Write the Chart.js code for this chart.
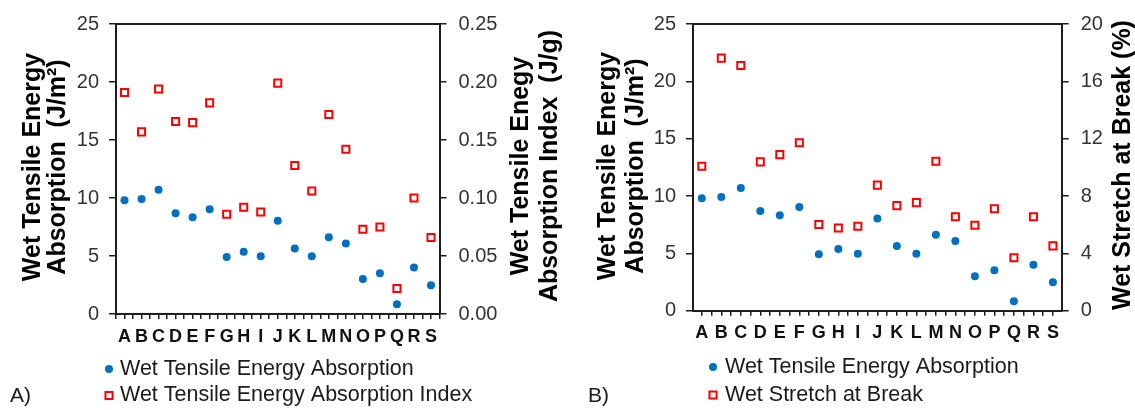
<!DOCTYPE html>
<html>
<head>
<meta charset="utf-8">
<script src="https://cdn.jsdelivr.net/npm/chart.js@4.4.0/dist/chart.umd.min.js"></script>
<style>
  html, body { margin: 0; padding: 0; background: #fff; }
  #wrap { position: relative; width: 1135px; height: 410px; overflow: hidden; }
  canvas { position: absolute; top: 0; }
  #panelA { left: 0; }
  #panelB { left: 570px; }
</style>
</head>
<body>
<div id="wrap">
  <canvas id="panelA" width="570" height="410"></canvas>
  <canvas id="panelB" width="565" height="410"></canvas>
</div>
<script>
// Handsheet samples
const samples = ['A','B','C','D','E','F','G','H','I','J','K','L','M','N','O','P','Q','R','S'];

// Wet tensile energy absorption (J/m²)
const wetTEA = [9.80, 9.91, 10.71, 8.69, 8.33, 9.04, 4.92, 5.37, 4.97, 8.04, 5.65, 4.97, 6.62, 6.08, 3.01, 3.52, 0.83, 4.01, 2.47];
// Wet tensile energy absorption index (J/g)
const wetTEAIndex = [0.191, 0.157, 0.194, 0.166, 0.165, 0.182, 0.086, 0.092, 0.088, 0.199, 0.128, 0.106, 0.172, 0.142, 0.073, 0.075, 0.022, 0.100, 0.066];
// Wet stretch at break (%)
const wetStretch = [10.08, 17.62, 17.11, 10.38, 10.89, 11.71, 6.01, 5.77, 5.89, 8.76, 7.33, 7.54, 10.43, 6.56, 5.96, 7.11, 3.69, 6.56, 4.52];

// Axis tick values
const teaTicks = [0, 5, 10, 15, 20, 25];
const indexTicks = [0, 0.05, 0.10, 0.15, 0.20, 0.25];
const stretchTicks = [0, 4, 8, 12, 16, 20];

const FONT = "'Liberation Sans', Arial, Helvetica, sans-serif";
const AXIS_COLOR = '#1e1e1e';
const BLUE = '#0070C0';
const RED = '#FF0000';

// Category positions plus half-way marks for the bottom axis ticks
function halfSteps(min, max) {
  const out = [];
  for (let k = Math.ceil(min * 2); k <= Math.floor(max * 2); k++) out.push(k / 2);
  return out;
}

// Draws rotated axis titles, the stacked legend and the panel tag
const panelDecor = {
  id: 'panelDecor',
  afterDraw(chart, args, opts) {
    const ctx = chart.ctx;
    ctx.save();
    (opts.titles || []).forEach(t => {
      ctx.font = 'bold ' + t.size + 'px ' + FONT;
      ctx.fillStyle = '#000';
      ctx.textAlign = 'center';
      ctx.textBaseline = 'alphabetic';
      t.lines.forEach((line, i) => {
        ctx.save();
        ctx.translate(t.x[i], t.y);
        ctx.rotate(-Math.PI / 2);
        ctx.fillText(line, 0, 0);
        ctx.restore();
      });
    });
    const lg = opts.legend;
    chart.data.datasets.forEach((ds, i) => {
      const y = lg.y[i];
      ctx.fillStyle = ds.pointBackgroundColor;
      ctx.strokeStyle = ds.pointBorderColor || ds.pointBackgroundColor;
      ctx.lineWidth = ds.pointBorderWidth;
      Chart.helpers.drawPoint(ctx, {
        pointStyle: ds.pointStyle,
        radius: ds.pointRadius,
        borderWidth: ds.pointBorderWidth,
        rotation: 0
      }, lg.markerX, y);
      ctx.font = lg.size + 'px ' + FONT;
      ctx.fillStyle = '#1a1a1a';
      ctx.textAlign = 'left';
      ctx.textBaseline = 'middle';
      ctx.fillText(ds.label, lg.textX, y);
    });
    if (opts.tag) {
      ctx.font = opts.tag.size + 'px ' + FONT;
      ctx.fillStyle = '#1a1a1a';
      ctx.textAlign = 'left';
      ctx.textBaseline = 'middle';
      ctx.fillText(opts.tag.text, opts.tag.x, opts.tag.y);
    }
    ctx.restore();
  }
};

function buildPanel(canvasId, p) {
  const tickFont = { family: FONT, size: 20 };
  const axisGrid = { drawOnChartArea: false, drawTicks: true, tickLength: 7, color: AXIS_COLOR, lineWidth: 1.5 };
  const axisBorder = { display: true, color: AXIS_COLOR, width: 2 };

  return new Chart(document.getElementById(canvasId), {
    type: 'scatter',
    data: {
      datasets: [
        {
          label: 'Wet Tensile Energy Absorption',
          data: wetTEA.map((v, i) => ({ x: i, y: v })),
          yAxisID: 'y',
          pointStyle: 'circle',
          pointRadius: 4,
          pointBackgroundColor: BLUE,
          pointBorderWidth: 0,
          showLine: false
        },
        {
          label: p.rightLabel,
          data: p.rightData.map((v, i) => ({ x: i, y: v })),
          yAxisID: 'y2',
          pointStyle: 'rect',
          pointRadius: 5,
          pointBackgroundColor: '#ffffff',
          pointBorderColor: RED,
          pointBorderWidth: 2,
          showLine: false
        }
      ]
    },
    options: {
      responsive: false,
      devicePixelRatio: 1,
      animation: false,
      events: [],
      layout: { padding: { top: p.top, left: 0, right: 0, bottom: 0 } },
      plugins: {
        legend: { display: false },
        tooltip: { enabled: false },
        panelDecor: p.decor
      },
      scales: {
        x: {
          type: 'linear',
          position: 'bottom',
          min: p.xMin,
          max: p.xMax,
          afterBuildTicks: s => { s.ticks = halfSteps(p.xMin, p.xMax).map(v => ({ value: v })); },
          afterFit: s => { s.height = p.xHeight; },
          ticks: {
            autoSkip: false, maxRotation: 0, minRotation: 0, padding: 7,
            color: '#111',
            font: { family: FONT, size: 18, weight: 'bold' },
            callback: v => Number.isInteger(v) ? samples[v] : ''
          },
          grid: { drawOnChartArea: false, drawTicks: true, tickLength: 5, color: AXIS_COLOR, lineWidth: 1.5 },
          border: axisBorder
        },
        xTop: {
          axis: 'x',
          type: 'linear',
          position: 'top',
          min: p.xMin,
          max: p.xMax,
          afterFit: s => { s.height = 0; },
          ticks: { display: false },
          grid: { drawOnChartArea: false, drawTicks: false },
          border: axisBorder
        },
        y: {
          type: 'linear',
          position: 'left',
          min: 0,
          max: 25,
          afterBuildTicks: s => { s.ticks = teaTicks.map(v => ({ value: v })); },
          afterFit: s => { s.width = p.leftWidth; },
          ticks: { padding: 10, color: '#333', font: tickFont },
          grid: axisGrid,
          border: axisBorder
        },
        y2: {
          type: 'linear',
          position: 'right',
          min: p.rightTicks[0],
          max: p.rightTicks[p.rightTicks.length - 1],
          afterBuildTicks: s => { s.ticks = p.rightTicks.map(v => ({ value: v })); },
          afterFit: s => { s.width = p.rightWidth; },
          ticks: { padding: 12, color: '#333', font: tickFont, callback: p.rightFormat },
          grid: axisGrid,
          border: axisBorder
        }
      }
    },
    plugins: [panelDecor]
  });
}

// Panel A: energy absorption and its index
buildPanel('panelA', {
  rightLabel: 'Wet Tensile Energy Absorption Index',
  rightData: wetTEAIndex,
  rightTicks: indexTicks,
  rightFormat: v => v.toFixed(2),
  xMin: -0.5, xMax: 18.5,
  top: 20.7, xHeight: 96, leftWidth: 116, rightWidth: 130.5,
  decor: {
    titles: [
      { lines: ['Wet Tensile Energy', 'Absorption  (J/m²)'], x: [40, 65], y: 167, size: 25 },
      { lines: ['Wet Tensile Enegy', 'Absorption Index  (J/g)'], x: [528, 556.5], y: 166, size: 25 }
    ],
    legend: { markerX: 109, textX: 120, y: [369, 395.5], size: 21.5 },
    tag: { text: 'A)', x: 10, y: 396, size: 21 }
  }
});

// Panel B: energy absorption and stretch at break
buildPanel('panelB', {
  rightLabel: 'Wet Stretch at Break',
  rightData: wetStretch,
  rightTicks: stretchTicks,
  rightFormat: v => String(v),
  xMin: -0.45, xMax: 18.45,
  top: 20.7, xHeight: 99.3, leftWidth: 123, rightWidth: 73.3,
  decor: {
    titles: [
      { lines: ['Wet Tensile Energy', 'Absorption  (J/m²)'], x: [45, 73], y: 166, size: 25 },
      { lines: ['Wet Stretch at Break (%)'], x: [560], y: 165, size: 25 }
    ],
    legend: { markerX: 143, textX: 155, y: [367, 395], size: 21.5 },
    tag: { text: 'B)', x: 18, y: 396, size: 21 }
  }
});
</script>
</body>
</html>
